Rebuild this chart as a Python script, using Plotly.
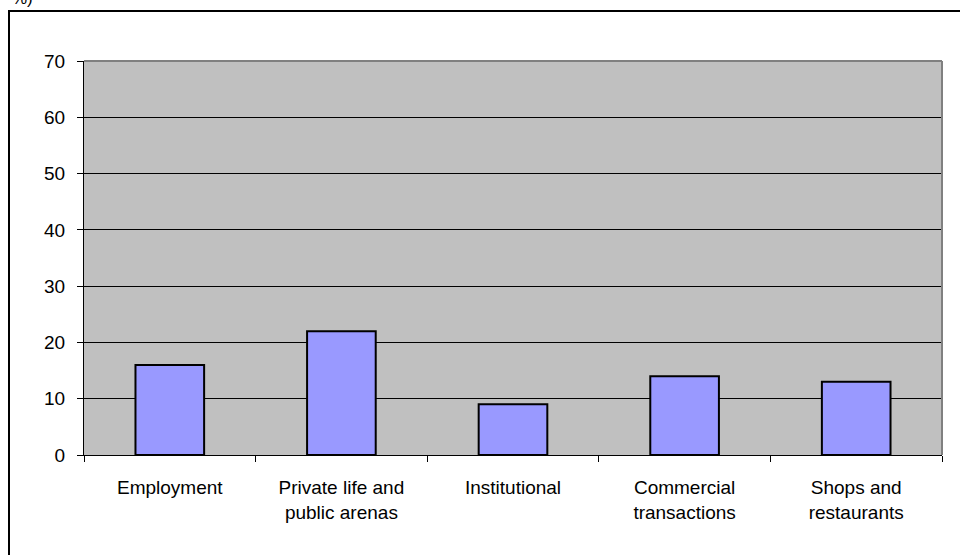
import plotly.graph_objects as go

categories = ["Employment", "Private life and<br>public arenas", "Institutional",
              "Commercial<br>transactions", "Shops and<br>restaurants"]
values = [16, 22, 9, 14, 13]
y_ticks = [0, 10, 20, 30, 40, 50, 60, 70]

W, H = 960, 555
ML, MR, MT, MB = 84, 18, 61, 100
pw, ph = W - ML - MR, H - MT - MB

def px(x):
    return (x - ML) / pw

def py(y):
    return (H - MB - y) / ph

fig = go.Figure(go.Bar(
    x=categories, y=values,
    marker=dict(color="#9999FF", line=dict(color="black", width=2)),
    width=0.4,
))

font = dict(family="Liberation Sans, Arial, sans-serif", size=19, color="black")

fig.update_layout(
    width=W, height=H,
    margin=dict(l=ML, r=MR, t=MT, b=MB),
    paper_bgcolor="white",
    plot_bgcolor="#C0C0C0",
    font=font,
    showlegend=False,
    bargap=0.6,
    xaxis=dict(
        showgrid=False, showline=True, linecolor="black", linewidth=1,
        ticks="outside", tickson="boundaries", ticklen=6, tickcolor="black",
        tickfont=font, ticklabelstandoff=15,
    ),
    yaxis=dict(
        range=[0, 70], tickvals=y_ticks, showgrid=True, gridcolor="black", gridwidth=1,
        showline=True, linecolor="black", linewidth=1, ticks="outside", ticklen=6,
        tickcolor="black", tickfont=font, zeroline=False, ticklabelstandoff=8,
    ),
    shapes=[
        dict(type="line", xref="paper", yref="paper", x0=0, x1=1, y0=1, y1=1,
             line=dict(color="#808080", width=2)),
        dict(type="line", xref="paper", yref="paper", x0=1, x1=1, y0=0, y1=1,
             line=dict(color="#808080", width=2)),
        dict(type="line", xref="paper", yref="paper", x0=px(9), x1=px(9), y0=py(560), y1=py(11),
             line=dict(color="black", width=2)),
        dict(type="line", xref="paper", yref="paper", x0=px(8), x1=px(965), y0=py(11), y1=py(11),
             line=dict(color="black", width=2)),
    ],
    annotations=[
        dict(text="%)", xref="paper", yref="paper", x=px(35), y=py(10), xanchor="right",
             yanchor="bottom", showarrow=False, font=dict(family=font["family"], size=17, color="black")),
    ],
)

fig.write_html("out.html", config={"displayModeBar": False},
               post_script="document.body.style.margin='0';document.body.style.overflow='hidden';")
